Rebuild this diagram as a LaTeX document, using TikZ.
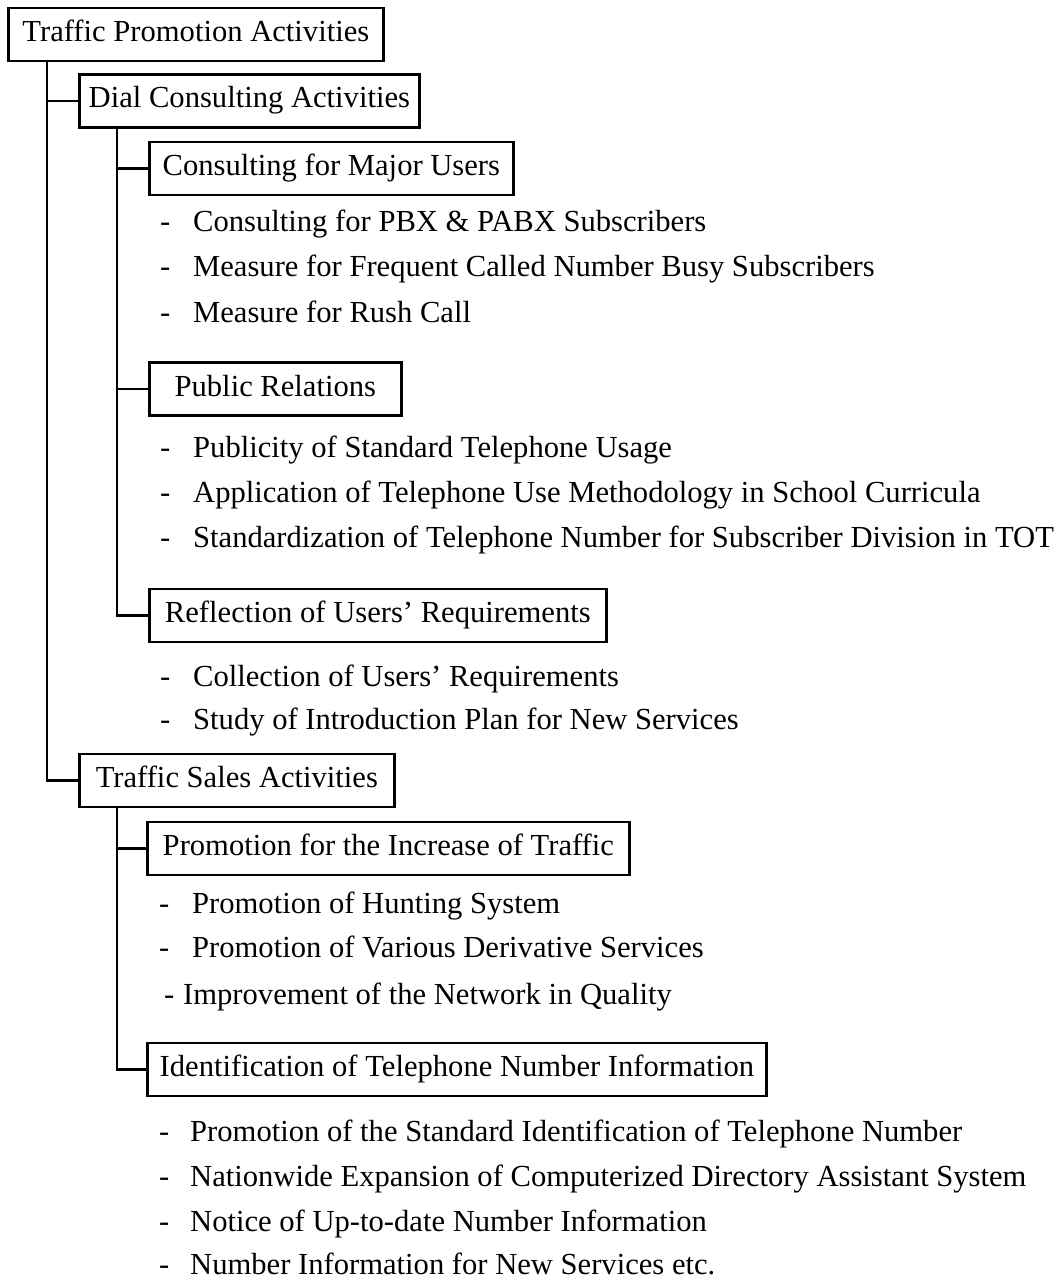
\documentclass[tikz,border=0pt]{standalone}
\usepackage{fontspec}
\setmainfont{Liberation Serif}
\usetikzlibrary{calc}
\tikzset{
  box/.style={draw, line width=2.7pt, anchor=west, inner xsep=4pt,
    minimum height=53pt, text height=21pt, text depth=7pt},
  entry/.style={anchor=base west, inner sep=0pt},
  link/.style={line width=2.7pt}
}
\newcommand{\dashitem}[2][33pt]{\makebox[#1][l]{-}#2}

\begin{document}
\begin{tikzpicture}[x=1pt,y=-1pt,font=\fontsize{30.6pt}{36pt}\selectfont]
  \useasboundingbox (0,0) rectangle (1059,1279);

  \node[box, minimum width=375pt] (tpa) at (7,34.5)   {Traffic Promotion Activities};
  \node[box, minimum width=340pt] (dca) at (78,101)   {Dial Consulting Activities};
  \node[box, minimum width=364pt] (cmu) at (148,168.5) {Consulting for Major Users};
  \node[box, minimum width=252pt] (pr)  at (148,389)  {Public Relations};
  \node[box, minimum width=457pt] (rur) at (148,615.5) {Reflection of Users' Requirements};
  \node[box, minimum width=315pt] (tsa) at (78,780.5) {Traffic Sales Activities};
  \node[box, minimum width=482pt] (pit) at (146,848.5) {Promotion for the Increase of Traffic};
  \node[box, minimum width=619pt] (itn) at (146,1069.5) {Identification of Telephone Number Information};

  \node[entry] (c1) at (160,231)  {\dashitem{Consulting for PBX \& PABX Subscribers}};
  \node[entry] (c2) at (160,276)  {\dashitem{Measure for Frequent Called Number Busy Subscribers}};
  \node[entry] (c3) at (160,322)  {\dashitem{Measure for Rush Call}};
  \node[entry] (p1) at (160,457)  {\dashitem{Publicity of Standard Telephone Usage}};
  \node[entry] (p2) at (160,502)  {\dashitem{Application of Telephone Use Methodology in School Curricula}};
  \node[entry] (p3) at (160,547)  {\dashitem{Standardization of Telephone Number for Subscriber Division in TOT}};
  \node[entry] (r1) at (160,686)  {\dashitem{Collection of Users' Requirements}};
  \node[entry] (r2) at (160,729)  {\dashitem{Study of Introduction Plan for New Services}};
  \node[entry] (h1) at (159,913)  {\dashitem{Promotion of Hunting System}};
  \node[entry] (h2) at (159,957)  {\dashitem{Promotion of Various Derivative Services}};
  \node[entry] (h3) at (164,1004) {\dashitem[19pt]{Improvement of the Network in Quality}};
  \node[entry] (n1) at (159,1141) {\dashitem[31pt]{Promotion of the Standard Identification of Telephone Number}};
  \node[entry] (n2) at (159,1186) {\dashitem[31pt]{Nationwide Expansion of Computerized Directory Assistant System}};
  \node[entry] (n3) at (159,1231) {\dashitem[31pt]{Notice of Up-to-date Number Information}};
  \node[entry] (n4) at (159,1274) {\dashitem[31pt]{Number Information for New Services etc.}};

  \coordinate (t1) at ([xshift=40pt]tpa.south west);
  \coordinate (t2) at ([xshift=39pt]dca.south west);
  \coordinate (t3) at ([xshift=39pt]tsa.south west);

  \draw[link] (t1) |- (tsa.west);
  \draw[link] (t1 |- dca.west) -- (dca.west);
  \draw[link] (t2) |- (rur.west);
  \draw[link] (t2 |- cmu.west) -- (cmu.west);
  \draw[link] (t2 |- pr.west) -- (pr.west);
  \draw[link] (t3) |- (itn.west);
  \draw[link] (t3 |- pit.west) -- (pit.west);
\end{tikzpicture}
\end{document}
